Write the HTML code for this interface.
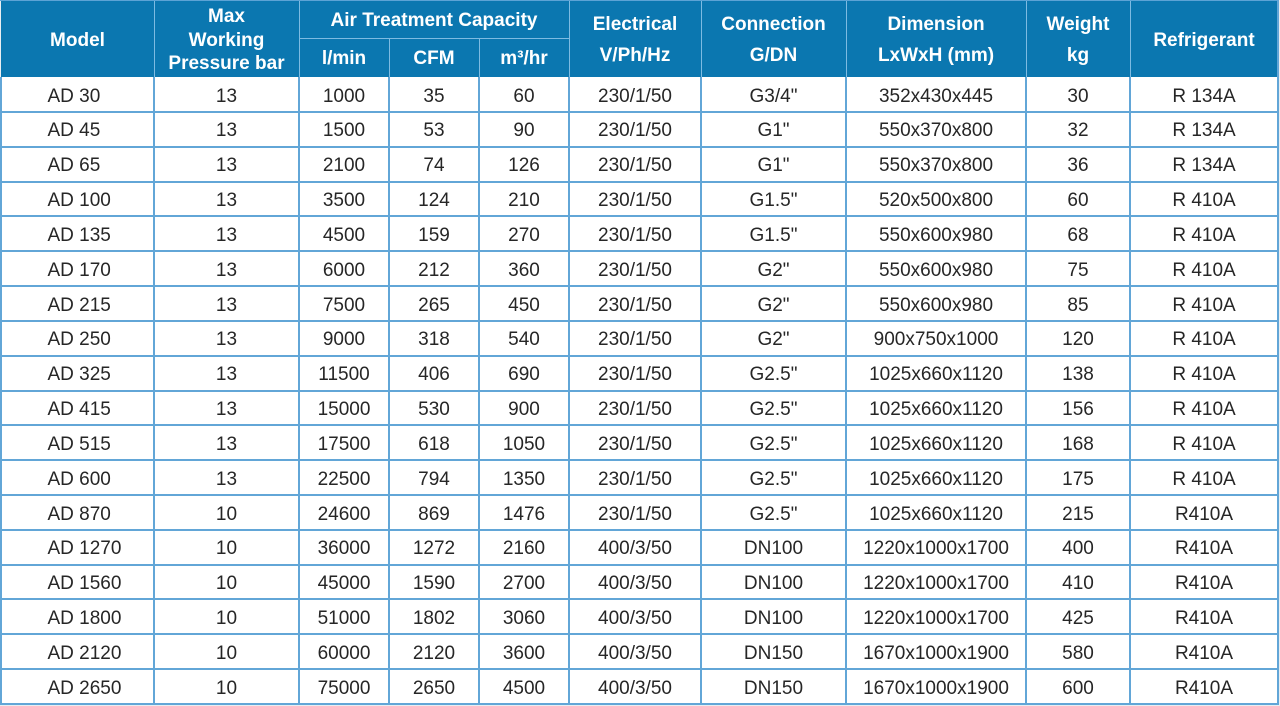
<!DOCTYPE html>
<html>
<head>
<meta charset="utf-8">
<style>
  html,body{margin:0;padding:0;}
  body{width:1280px;height:706px;position:relative;overflow:hidden;background:#e9eef2;font-family:"Liberation Sans",Arial,sans-serif;}
  .hdr{position:absolute;left:1px;top:1px;width:1277px;height:76px;background:#0b77b0;}
  .bdy{position:absolute;left:1px;top:77px;width:1277px;height:627px;background:#ffffff;}
  .hl{position:absolute;height:2px;background:#62a6d7;}
  .vl{position:absolute;width:2px;background:#62a6d7;}
  .hvl{position:absolute;width:1.5px;background:#7dbbe2;}
  .ht{position:absolute;color:#fff;font-weight:bold;font-size:19px;text-align:center;line-height:22px;white-space:nowrap;}
  .row{position:absolute;left:1px;width:1277px;height:34.83px;display:grid;grid-template-columns:153px 145px 90px 90px 90px 132px 145px 180px 104px 148px;font-size:19px;color:#262626;line-height:34.83px;}
  .row div{text-align:center;white-space:nowrap;position:relative;top:2.5px;}
  .row div:first-child{text-align:left;padding-left:46.5px;}
</style>
</head>
<body>
<div class="hdr"></div>
<div class="bdy"></div>

<!-- header text -->
<div class="ht" style="left:1px;width:153px;top:30px;">Model</div>
<div class="ht" style="left:154px;width:145px;top:6px;">Max</div>
<div class="ht" style="left:154px;width:145px;top:30px;">Working</div>
<div class="ht" style="left:154px;width:145px;top:53px;">Pressure bar</div>
<div class="ht" style="left:299px;width:270px;top:10px;">Air Treatment Capacity</div>
<div class="ht" style="left:299px;width:90px;top:48px;">l/min</div>
<div class="ht" style="left:389px;width:90px;top:48px;">CFM</div>
<div class="ht" style="left:479px;width:90px;top:48px;">m³/hr</div>
<div class="ht" style="left:569px;width:132px;top:14px;">Electrical</div>
<div class="ht" style="left:569px;width:132px;top:45px;">V/Ph/Hz</div>
<div class="ht" style="left:701px;width:145px;top:14px;">Connection</div>
<div class="ht" style="left:701px;width:145px;top:45px;">G/DN</div>
<div class="ht" style="left:846px;width:180px;top:14px;">Dimension</div>
<div class="ht" style="left:846px;width:180px;top:45px;">LxWxH (mm)</div>
<div class="ht" style="left:1026px;width:104px;top:14px;">Weight</div>
<div class="ht" style="left:1026px;width:104px;top:45px;">kg</div>
<div class="ht" style="left:1130px;width:148px;top:30px;">Refrigerant</div>

<!-- header lines -->
<div class="hvl" style="left:153.5px;top:1px;height:76px;"></div>
<div class="hvl" style="left:298.5px;top:1px;height:76px;"></div>
<div class="hvl" style="left:388.5px;top:38px;height:39px;"></div>
<div class="hvl" style="left:478.5px;top:38px;height:39px;"></div>
<div class="hvl" style="left:568.5px;top:1px;height:76px;"></div>
<div class="hvl" style="left:700.5px;top:1px;height:76px;"></div>
<div class="hvl" style="left:845.5px;top:1px;height:76px;"></div>
<div class="hvl" style="left:1025.5px;top:1px;height:76px;"></div>
<div class="hvl" style="left:1129.5px;top:1px;height:76px;"></div>
<div style="position:absolute;left:299px;top:37.5px;width:270px;height:1.5px;background:#7dbbe2;"></div>
<div style="position:absolute;left:0;top:0;width:1279px;height:1px;background:#5ca3d5;"></div>

<!-- body rows -->
<div class="row" style="top:77px;"><div>AD 30</div><div>13</div><div>1000</div><div>35</div><div>60</div><div>230/1/50</div><div>G3/4"</div><div>352x430x445</div><div>30</div><div>R 134A</div></div>
<div class="row" style="top:111.83px;"><div>AD 45</div><div>13</div><div>1500</div><div>53</div><div>90</div><div>230/1/50</div><div>G1"</div><div>550x370x800</div><div>32</div><div>R 134A</div></div>
<div class="row" style="top:146.67px;"><div>AD 65</div><div>13</div><div>2100</div><div>74</div><div>126</div><div>230/1/50</div><div>G1"</div><div>550x370x800</div><div>36</div><div>R 134A</div></div>
<div class="row" style="top:181.5px;"><div>AD 100</div><div>13</div><div>3500</div><div>124</div><div>210</div><div>230/1/50</div><div>G1.5"</div><div>520x500x800</div><div>60</div><div>R 410A</div></div>
<div class="row" style="top:216.33px;"><div>AD 135</div><div>13</div><div>4500</div><div>159</div><div>270</div><div>230/1/50</div><div>G1.5"</div><div>550x600x980</div><div>68</div><div>R 410A</div></div>
<div class="row" style="top:251.17px;"><div>AD 170</div><div>13</div><div>6000</div><div>212</div><div>360</div><div>230/1/50</div><div>G2"</div><div>550x600x980</div><div>75</div><div>R 410A</div></div>
<div class="row" style="top:286px;"><div>AD 215</div><div>13</div><div>7500</div><div>265</div><div>450</div><div>230/1/50</div><div>G2"</div><div>550x600x980</div><div>85</div><div>R 410A</div></div>
<div class="row" style="top:320.83px;"><div>AD 250</div><div>13</div><div>9000</div><div>318</div><div>540</div><div>230/1/50</div><div>G2"</div><div>900x750x1000</div><div>120</div><div>R 410A</div></div>
<div class="row" style="top:355.67px;"><div>AD 325</div><div>13</div><div>11500</div><div>406</div><div>690</div><div>230/1/50</div><div>G2.5"</div><div>1025x660x1120</div><div>138</div><div>R 410A</div></div>
<div class="row" style="top:390.5px;"><div>AD 415</div><div>13</div><div>15000</div><div>530</div><div>900</div><div>230/1/50</div><div>G2.5"</div><div>1025x660x1120</div><div>156</div><div>R 410A</div></div>
<div class="row" style="top:425.33px;"><div>AD 515</div><div>13</div><div>17500</div><div>618</div><div>1050</div><div>230/1/50</div><div>G2.5"</div><div>1025x660x1120</div><div>168</div><div>R 410A</div></div>
<div class="row" style="top:460.17px;"><div>AD 600</div><div>13</div><div>22500</div><div>794</div><div>1350</div><div>230/1/50</div><div>G2.5"</div><div>1025x660x1120</div><div>175</div><div>R 410A</div></div>
<div class="row" style="top:495px;"><div>AD 870</div><div>10</div><div>24600</div><div>869</div><div>1476</div><div>230/1/50</div><div>G2.5"</div><div>1025x660x1120</div><div>215</div><div>R410A</div></div>
<div class="row" style="top:529.83px;"><div>AD 1270</div><div>10</div><div>36000</div><div>1272</div><div>2160</div><div>400/3/50</div><div>DN100</div><div>1220x1000x1700</div><div>400</div><div>R410A</div></div>
<div class="row" style="top:564.67px;"><div>AD 1560</div><div>10</div><div>45000</div><div>1590</div><div>2700</div><div>400/3/50</div><div>DN100</div><div>1220x1000x1700</div><div>410</div><div>R410A</div></div>
<div class="row" style="top:599.5px;"><div>AD 1800</div><div>10</div><div>51000</div><div>1802</div><div>3060</div><div>400/3/50</div><div>DN100</div><div>1220x1000x1700</div><div>425</div><div>R410A</div></div>
<div class="row" style="top:634.33px;"><div>AD 2120</div><div>10</div><div>60000</div><div>2120</div><div>3600</div><div>400/3/50</div><div>DN150</div><div>1670x1000x1900</div><div>580</div><div>R410A</div></div>
<div class="row" style="top:669.17px;"><div>AD 2650</div><div>10</div><div>75000</div><div>2650</div><div>4500</div><div>400/3/50</div><div>DN150</div><div>1670x1000x1900</div><div>600</div><div>R410A</div></div>

<!-- body horizontal lines -->
<div class="hl" style="left:0;width:1279px;top:110.8px;"></div>
<div class="hl" style="left:0;width:1279px;top:145.7px;"></div>
<div class="hl" style="left:0;width:1279px;top:180.5px;"></div>
<div class="hl" style="left:0;width:1279px;top:215.3px;"></div>
<div class="hl" style="left:0;width:1279px;top:250.2px;"></div>
<div class="hl" style="left:0;width:1279px;top:285px;"></div>
<div class="hl" style="left:0;width:1279px;top:319.8px;"></div>
<div class="hl" style="left:0;width:1279px;top:354.6px;"></div>
<div class="hl" style="left:0;width:1279px;top:389.5px;"></div>
<div class="hl" style="left:0;width:1279px;top:424.3px;"></div>
<div class="hl" style="left:0;width:1279px;top:459.1px;"></div>
<div class="hl" style="left:0;width:1279px;top:494px;"></div>
<div class="hl" style="left:0;width:1279px;top:528.8px;"></div>
<div class="hl" style="left:0;width:1279px;top:563.6px;"></div>
<div class="hl" style="left:0;width:1279px;top:598.4px;"></div>
<div class="hl" style="left:0;width:1279px;top:633.3px;"></div>
<div class="hl" style="left:0;width:1279px;top:668.1px;"></div>
<div class="hl" style="left:0;width:1279px;top:702.5px;"></div>

<!-- body vertical lines -->
<div class="vl" style="left:0;top:77px;height:627px;"></div>
<div class="vl" style="left:153px;top:77px;height:627px;"></div>
<div class="vl" style="left:298px;top:77px;height:627px;"></div>
<div class="vl" style="left:388px;top:77px;height:627px;"></div>
<div class="vl" style="left:478px;top:77px;height:627px;"></div>
<div class="vl" style="left:568px;top:77px;height:627px;"></div>
<div class="vl" style="left:700px;top:77px;height:627px;"></div>
<div class="vl" style="left:845px;top:77px;height:627px;"></div>
<div class="vl" style="left:1025px;top:77px;height:627px;"></div>
<div class="vl" style="left:1129px;top:77px;height:627px;"></div>
<div class="vl" style="left:1277px;top:0;height:704px;"></div>
</body>
</html>
